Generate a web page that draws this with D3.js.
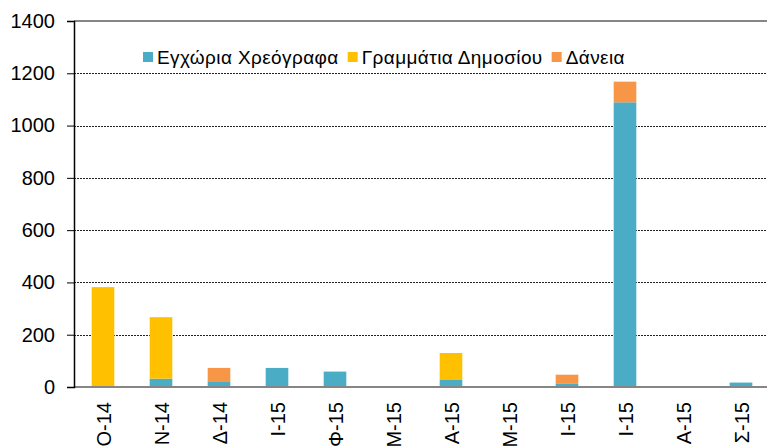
<!DOCTYPE html>
<html>
<head>
<meta charset="utf-8">
<script src="https://cdn.jsdelivr.net/npm/d3@7"></script>
<style>
  body { margin: 0; background: #fff; }
  text { font-family: "Liberation Sans", Arial, sans-serif; fill: #000; }
</style>
</head>
<body>
<svg id="chart" width="767" height="448"></svg>
<script>
var months = ['Ο-14', 'Ν-14', 'Δ-14', 'Ι-15', 'Φ-15', 'Μ-15', 'Α-15', 'Μ-15', 'Ι-15', 'Ι-15', 'Α-15', 'Σ-15'];
var bonds  = [0, 32, 22, 73, 59, 0, 29, 0, 14, 1089, 0, 17];
var bills  = [382, 233, 0, 0, 0, 0, 101, 0, 0, 0, 0, 0];
var loans  = [0, 2, 51, 0, 0, 0, 0, 0, 33, 79, 0, 0];
var seriesNames = ['Εγχώρια Χρεόγραφα', 'Γραμμάτια Δημοσίου', 'Δάνεια'];
var colors = ['#4bacc6', '#ffc000', '#f79646'];
var yTicks = [0, 200, 400, 600, 800, 1000, 1200, 1400];

var svg = d3.select('#chart');
var plotLeft = 74, plotRight = 770, plotTop = 21, plotBottom = 387;

// key by index, months repeat
var rows = months.map(function(m, i) {
  return { idx: i, label: m, s0: bonds[i], s1: bills[i], s2: loans[i] };
});

var x = d3.scaleBand()
  .domain(d3.range(months.length))
  .range([plotLeft, plotRight])
  .paddingInner(0.61)
  .paddingOuter(0.305);

var y = d3.scaleLinear()
  .domain([0, 1400])
  .range([plotBottom, plotTop]);

// gridlines
svg.append('g')
  .selectAll('line')
  .data(yTicks.filter(function(d) { return d > 0 && d < 1400; }))
  .enter().append('line')
    .attr('x1', plotLeft)
    .attr('x2', 767)
    .attr('y1', function(d) { return Math.round(y(d)) + 0.5; })
    .attr('y2', function(d) { return Math.round(y(d)) + 0.5; })
    .attr('stroke', '#222')
    .attr('stroke-width', 1)
    .attr('stroke-dasharray', '2,1');

// top border line
svg.append('line')
  .attr('x1', plotLeft).attr('x2', 767)
  .attr('y1', y(1400)).attr('y2', y(1400))
  .attr('stroke', '#868686')
  .attr('stroke-width', 2);

// stacked bars
var stack = d3.stack().keys(['s0', 's1', 's2']);
var layers = stack(rows);

svg.append('g')
  .selectAll('g')
  .data(layers)
  .enter().append('g')
    .attr('fill', function(d, i) { return colors[i]; })
  .selectAll('rect')
  .data(function(d) { return d; })
  .enter().append('rect')
    .attr('x', function(d) { return x(d.data.idx); })
    .attr('width', x.bandwidth())
    .attr('y', function(d) { return y(d[1]); })
    .attr('height', function(d) { return y(d[0]) - y(d[1]); });

// x axis line
svg.append('line')
  .attr('x1', plotLeft).attr('x2', 767)
  .attr('y1', plotBottom).attr('y2', plotBottom)
  .attr('stroke', '#868686')
  .attr('stroke-width', 2);

// y axis
var yAxis = svg.append('g')
  .attr('transform', 'translate(' + plotLeft + ',0)')
  .call(d3.axisLeft(y).tickValues(yTicks).tickFormat(d3.format('d')).tickSize(7).tickPadding(12));
yAxis.select('.domain').attr('stroke', '#000').attr('stroke-width', 1.5);
yAxis.selectAll('.tick line').attr('stroke', '#000');
yAxis.selectAll('text')
  .attr('fill', '#000')
  .style('font-size', '20px')
  .style('font-family', '"Liberation Sans", Arial, sans-serif');

// x labels, rotated
svg.append('g')
  .selectAll('text')
  .data(rows)
  .enter().append('text')
    .attr('transform', function(d) {
      return 'translate(' + (x(d.idx) + x.bandwidth() / 2 + 1) + ',' + 402 + ') rotate(-90)';
    })
    .attr('text-anchor', 'end')
    .attr('dy', '0.35em')
    .style('font-size', '20px')
    .text(function(d) { return d.label; });

// legend
var legend = svg.append('g').attr('transform', 'translate(143,57)');
var lx = 0;
seriesNames.forEach(function(name, i) {
  var g = legend.append('g').attr('transform', 'translate(' + lx + ',0)');
  g.append('rect')
    .attr('x', 0).attr('y', -5)
    .attr('width', 10).attr('height', 10)
    .attr('fill', colors[i]);
  var t = g.append('text')
    .attr('x', 14)
    .attr('dy', '0.35em')
    .style('font-size', '19px')
    .style('letter-spacing', '0.4px')
    .text(name);
  lx += 14 + t.node().getComputedTextLength() + 9;
});
</script>
</body>
</html>
